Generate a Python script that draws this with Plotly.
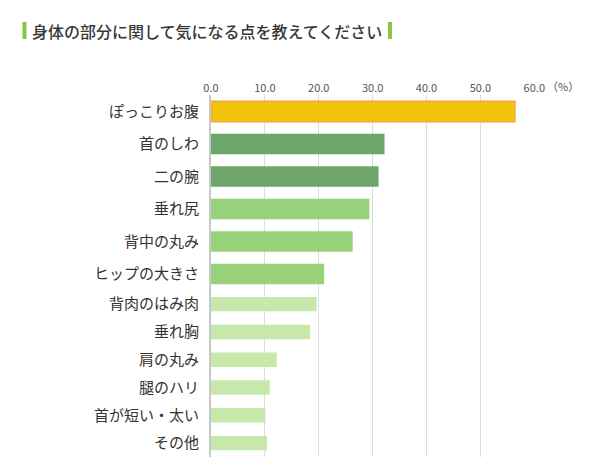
import plotly.graph_objects as go

title = "身体の部分に関して気になる点を教えてください"
categories = ["ぽっこりお腹", "首のしわ", "二の腕", "垂れ尻", "背中の丸み", "ヒップの大きさ",
              "背肉のはみ肉", "垂れ胸", "肩の丸み", "腿のハリ", "首が短い・太い", "その他"]
values = [56.4, 32.2, 31.1, 29.4, 26.3, 21.0, 19.6, 18.4, 12.2, 10.9, 10.1, 10.4]
tick_vals = [0, 10, 20, 30, 40, 50, 60]
tick_text = ["0.0", "10.0", "20.0", "30.0", "40.0", "50.0", "60.0"]
unit = "（%）"

top_colors = ["#F2C40C", "#6EA66B", "#6EA66B", "#97D27B", "#97D27B", "#97D27B"]
top_lines = ["#F4A443", "#6EA66B", "#6EA66B", "#97D27B", "#97D27B", "#97D27B"]
top_lw = [1.5, 0, 0, 0, 0, 0]
low_color = "#C6E8AB"

W, H = 615, 465
def px(x): return x / W
def py(y): return 1 - y / H

font = "Noto Sans CJK JP"
fig = go.Figure()
fig.add_trace(go.Bar(
    x=values[:6], y=categories[:6], orientation="h",
    marker=dict(color=top_colors, line=dict(color=top_lines, width=top_lw)),
    width=0.63, xaxis="x", yaxis="y", hoverinfo="x+y"))
fig.add_trace(go.Bar(
    x=values[6:], y=categories[6:], orientation="h",
    marker=dict(color=low_color, line=dict(width=0)),
    width=0.52, xaxis="x2", yaxis="y2", hoverinfo="x+y"))

xdom = [px(211), px(534.3)]
common_x = dict(range=[0, 60], domain=xdom, showgrid=True, gridcolor="#DCDCDC",
                gridwidth=1, zeroline=False, tickvals=tick_vals, ticktext=tick_text,
                fixedrange=True, automargin=False)
ycommon = dict(autorange="reversed", showline=True, linecolor="#C8C8C8", linewidth=2,
               ticks="", ticklabelstandoff=7, showgrid=False, automargin=False,
               tickfont=dict(family=font, size=15, color="#333333"))

fig.update_layout(
    width=W, height=H, margin=dict(l=0, r=0, t=0, b=0, autoexpand=False),
    paper_bgcolor="white", plot_bgcolor="white", showlegend=False,
    barmode="overlay",
    xaxis=dict(**common_x, side="top", anchor="y",
               tickfont=dict(family=font, size=11, color="#555555")),
    xaxis2=dict(**common_x, anchor="y2", showticklabels=False, matches="x"),
    yaxis=dict(**ycommon, domain=[py(290.25), py(95.25)], anchor="x"),
    yaxis2=dict(**ycommon, domain=[py(457), py(290.25)], anchor="x2"),
    font=dict(family=font),
)

fig.add_annotation(text=title, x=px(30), y=py(31), xref="paper", yref="paper",
                   xanchor="left", yanchor="middle", showarrow=False,
                   font=dict(family=font, size=16, color="#383838", weight=500))
fig.add_annotation(text=unit, x=px(545), y=py(86), xref="paper", yref="paper",
                   xanchor="left", yanchor="middle", showarrow=False,
                   font=dict(family=font, size=11, color="#555555"))
for x0 in (22.5, 388):
    fig.add_shape(type="rect", xref="paper", yref="paper",
                  x0=px(x0), x1=px(x0 + 4), y0=py(39), y1=py(22),
                  fillcolor="#8CC63F", line=dict(width=0))

fig.write_html("out.html")
